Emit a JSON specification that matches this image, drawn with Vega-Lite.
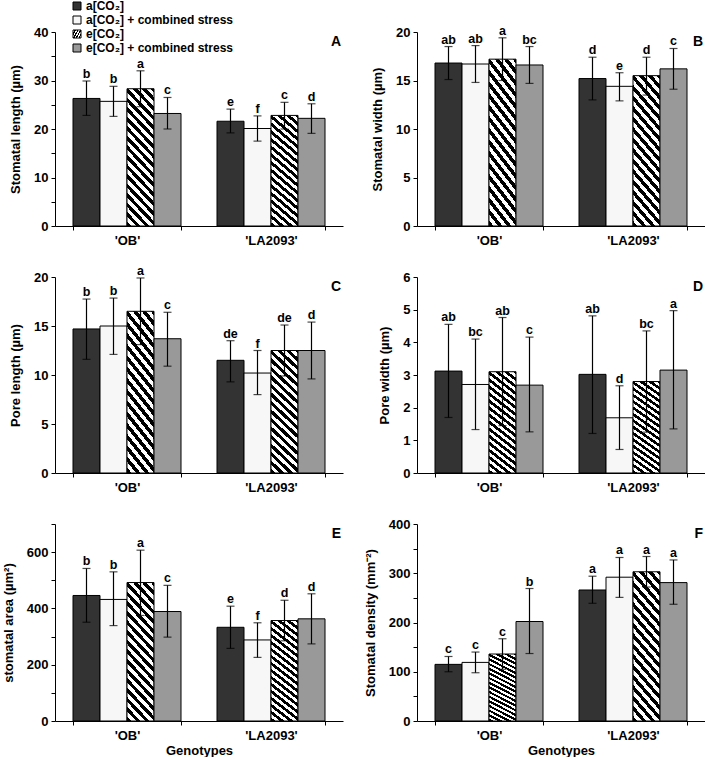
{
"$schema": "https://vega.github.io/schema/vega-lite/v6.json",
"padding": {"left": 2, "top": 0, "right": 0, "bottom": 0},
"background": "white",
"datasets": {"d": [
{"p":"A","g":"OB","t":"a[CO₂]","v":26.3,"lo":22.8,"hi":29.9,"L":"b"},
{"p":"A","g":"OB","t":"a[CO₂] + combined stress","v":25.7,"lo":22.6,"hi":28.8,"L":"b"},
{"p":"A","g":"OB","t":"e[CO₂]","v":28.3,"lo":24.6,"hi":32.0,"L":"a"},
{"p":"A","g":"OB","t":"e[CO₂] + combined stress","v":23.2,"lo":20.0,"hi":26.5,"L":"c"},
{"p":"A","g":"LA2093","t":"a[CO₂]","v":21.6,"lo":19.2,"hi":24.1,"L":"e"},
{"p":"A","g":"LA2093","t":"a[CO₂] + combined stress","v":20.1,"lo":17.5,"hi":22.7,"L":"f"},
{"p":"A","g":"LA2093","t":"e[CO₂]","v":22.8,"lo":20.0,"hi":25.5,"L":"c"},
{"p":"A","g":"LA2093","t":"e[CO₂] + combined stress","v":22.2,"lo":19.1,"hi":25.2,"L":"d"},
{"p":"B","g":"OB","t":"a[CO₂]","v":16.8,"lo":15.1,"hi":18.5,"L":"ab"},
{"p":"B","g":"OB","t":"a[CO₂] + combined stress","v":16.7,"lo":14.8,"hi":18.6,"L":"ab"},
{"p":"B","g":"OB","t":"e[CO₂]","v":17.2,"lo":15.0,"hi":19.4,"L":"a"},
{"p":"B","g":"OB","t":"e[CO₂] + combined stress","v":16.6,"lo":14.7,"hi":18.5,"L":"bc"},
{"p":"B","g":"LA2093","t":"a[CO₂]","v":15.2,"lo":13.0,"hi":17.4,"L":"d"},
{"p":"B","g":"LA2093","t":"a[CO₂] + combined stress","v":14.4,"lo":12.9,"hi":15.8,"L":"e"},
{"p":"B","g":"LA2093","t":"e[CO₂]","v":15.5,"lo":13.5,"hi":17.4,"L":"d"},
{"p":"B","g":"LA2093","t":"e[CO₂] + combined stress","v":16.2,"lo":14.1,"hi":18.3,"L":"c"},
{"p":"C","g":"OB","t":"a[CO₂]","v":14.7,"lo":11.6,"hi":17.75,"L":"b"},
{"p":"C","g":"OB","t":"a[CO₂] + combined stress","v":15.0,"lo":12.1,"hi":17.85,"L":"b"},
{"p":"C","g":"OB","t":"e[CO₂]","v":16.5,"lo":13.1,"hi":19.9,"L":"a"},
{"p":"C","g":"OB","t":"e[CO₂] + combined stress","v":13.7,"lo":10.9,"hi":16.4,"L":"c"},
{"p":"C","g":"LA2093","t":"a[CO₂]","v":11.5,"lo":9.3,"hi":13.5,"L":"de"},
{"p":"C","g":"LA2093","t":"a[CO₂] + combined stress","v":10.2,"lo":8.0,"hi":12.5,"L":"f"},
{"p":"C","g":"LA2093","t":"e[CO₂]","v":12.5,"lo":9.9,"hi":15.1,"L":"de"},
{"p":"C","g":"LA2093","t":"e[CO₂] + combined stress","v":12.5,"lo":9.6,"hi":15.4,"L":"d"},
{"p":"D","g":"OB","t":"a[CO₂]","v":3.12,"lo":1.7,"hi":4.55,"L":"ab"},
{"p":"D","g":"OB","t":"a[CO₂] + combined stress","v":2.71,"lo":1.33,"hi":4.1,"L":"bc"},
{"p":"D","g":"OB","t":"e[CO₂]","v":3.1,"lo":1.45,"hi":4.76,"L":"ab"},
{"p":"D","g":"OB","t":"e[CO₂] + combined stress","v":2.69,"lo":1.26,"hi":4.16,"L":"c"},
{"p":"D","g":"LA2093","t":"a[CO₂]","v":3.02,"lo":1.21,"hi":4.81,"L":"ab"},
{"p":"D","g":"LA2093","t":"a[CO₂] + combined stress","v":1.69,"lo":0.72,"hi":2.67,"L":"d"},
{"p":"D","g":"LA2093","t":"e[CO₂]","v":2.8,"lo":1.25,"hi":4.35,"L":"bc"},
{"p":"D","g":"LA2093","t":"e[CO₂] + combined stress","v":3.15,"lo":1.35,"hi":4.97,"L":"a"},
{"p":"E","g":"OB","t":"a[CO₂]","v":446,"lo":351,"hi":542,"L":"b"},
{"p":"E","g":"OB","t":"a[CO₂] + combined stress","v":432,"lo":339,"hi":530,"L":"b"},
{"p":"E","g":"OB","t":"e[CO₂]","v":492,"lo":375,"hi":607,"L":"a"},
{"p":"E","g":"OB","t":"e[CO₂] + combined stress","v":389,"lo":298,"hi":482,"L":"c"},
{"p":"E","g":"LA2093","t":"a[CO₂]","v":333,"lo":258,"hi":408,"L":"e"},
{"p":"E","g":"LA2093","t":"a[CO₂] + combined stress","v":288,"lo":226,"hi":349,"L":"f"},
{"p":"E","g":"LA2093","t":"e[CO₂]","v":357,"lo":285,"hi":429,"L":"d"},
{"p":"E","g":"LA2093","t":"e[CO₂] + combined stress","v":363,"lo":274,"hi":452,"L":"d"},
{"p":"F","g":"OB","t":"a[CO₂]","v":115,"lo":100,"hi":131,"L":"c"},
{"p":"F","g":"OB","t":"a[CO₂] + combined stress","v":119,"lo":98,"hi":140,"L":"c"},
{"p":"F","g":"OB","t":"e[CO₂]","v":136,"lo":105,"hi":167,"L":"c"},
{"p":"F","g":"OB","t":"e[CO₂] + combined stress","v":202,"lo":137,"hi":269,"L":"b"},
{"p":"F","g":"LA2093","t":"a[CO₂]","v":266,"lo":239,"hi":294,"L":"a"},
{"p":"F","g":"LA2093","t":"a[CO₂] + combined stress","v":292,"lo":251,"hi":332,"L":"a"},
{"p":"F","g":"LA2093","t":"e[CO₂]","v":303,"lo":272,"hi":334,"L":"a"},
{"p":"F","g":"LA2093","t":"e[CO₂] + combined stress","v":281,"lo":237,"hi":327,"L":"a"}
]},
"data": {"name": "d"},
"columns": 2,
"bounds": "flush",
"spacing": {"row": 51, "column": 74},
"resolve": {"scale": {"fill": "independent", "y": "independent", "x": "independent"}, "legend": {"fill": "independent"}},
"concat": [
{
 "width": 288, "height": 194,
 "transform": [{"filter": "datum.p == 'A'"}],
 "layer": [
  {"mark": {"type": "bar", "stroke": "black", "strokeWidth": 1},
   "encoding": {
    "x": {"field": "g", "type": "nominal", "sort": ["OB", "LA2093"], "title": null, "scale": {"paddingInner": 0.25, "paddingOuter": 0.125}, "axis": {"labelExpr": "datum.label ? \"'\" + datum.label + \"'\" : ''"}},
    "xOffset": {"field": "t", "type": "nominal", "sort": ["a[CO₂]", "a[CO₂] + combined stress", "e[CO₂]", "e[CO₂] + combined stress"], "scale": {"paddingInner": 0, "paddingOuter": 0}},
    "y": {"field": "v", "type": "quantitative", "title": "Stomatal length (µm)", "scale": {"domain": [0, 40], "nice": false}, "axis": {"values": [0,5,10,15,20,25,30,35,40], "tickCount": 50, "format": "d", "labelExpr": "datum.value % 10 == 0 ? datum.label : ''"}},
    "fill": {"field": "t", "type": "nominal",
      "scale": {"domain": ["a[CO₂]", "a[CO₂] + combined stress", "e[CO₂]", "e[CO₂] + combined stress"],
        "range": ["#333333", "#f7f7f7", {"expr": "{gradient:'linear',x1:0,y1:1,x2:0.25,y2:-0.2,stops:[{offset:0,color:'#000'},{offset:0.0278,color:'#000'},{offset:0.0278,color:'#fff'},{offset:0.0556,color:'#fff'},{offset:0.0556,color:'#000'},{offset:0.0833,color:'#000'},{offset:0.0833,color:'#fff'},{offset:0.1111,color:'#fff'},{offset:0.1111,color:'#000'},{offset:0.1389,color:'#000'},{offset:0.1389,color:'#fff'},{offset:0.1667,color:'#fff'},{offset:0.1667,color:'#000'},{offset:0.1944,color:'#000'},{offset:0.1944,color:'#fff'},{offset:0.2222,color:'#fff'},{offset:0.2222,color:'#000'},{offset:0.25,color:'#000'},{offset:0.25,color:'#fff'},{offset:0.2778,color:'#fff'},{offset:0.2778,color:'#000'},{offset:0.3056,color:'#000'},{offset:0.3056,color:'#fff'},{offset:0.3333,color:'#fff'},{offset:0.3333,color:'#000'},{offset:0.3611,color:'#000'},{offset:0.3611,color:'#fff'},{offset:0.3889,color:'#fff'},{offset:0.3889,color:'#000'},{offset:0.4167,color:'#000'},{offset:0.4167,color:'#fff'},{offset:0.4444,color:'#fff'},{offset:0.4444,color:'#000'},{offset:0.4722,color:'#000'},{offset:0.4722,color:'#fff'},{offset:0.5,color:'#fff'},{offset:0.5,color:'#000'},{offset:0.5278,color:'#000'},{offset:0.5278,color:'#fff'},{offset:0.5556,color:'#fff'},{offset:0.5556,color:'#000'},{offset:0.5833,color:'#000'},{offset:0.5833,color:'#fff'},{offset:0.6111,color:'#fff'},{offset:0.6111,color:'#000'},{offset:0.6389,color:'#000'},{offset:0.6389,color:'#fff'},{offset:0.6667,color:'#fff'},{offset:0.6667,color:'#000'},{offset:0.6944,color:'#000'},{offset:0.6944,color:'#fff'},{offset:0.7222,color:'#fff'},{offset:0.7222,color:'#000'},{offset:0.75,color:'#000'},{offset:0.75,color:'#fff'},{offset:0.7778,color:'#fff'},{offset:0.7778,color:'#000'},{offset:0.8056,color:'#000'},{offset:0.8056,color:'#fff'},{offset:0.8333,color:'#fff'},{offset:0.8333,color:'#000'},{offset:0.8611,color:'#000'},{offset:0.8611,color:'#fff'},{offset:0.8889,color:'#fff'},{offset:0.8889,color:'#000'},{offset:0.9167,color:'#000'},{offset:0.9167,color:'#fff'},{offset:0.9444,color:'#fff'},{offset:0.9444,color:'#000'},{offset:0.9722,color:'#000'},{offset:0.9722,color:'#fff'},{offset:1,color:'#fff'}]}"}, "#999999"]},
      "legend": {"orient": "none", "legendX": 16, "legendY": -32, "title": null, "symbolType": "square", "symbolSize": 64, "symbolStrokeColor": "black", "symbolStrokeWidth": 1, "labelFontSize": 12, "labelFontWeight": "bold", "labelFont": "Liberation Sans", "labelColor": "black", "rowPadding": 2, "labelOffset": 3}}
   }},
  {"mark": {"type": "rule", "color": "black", "strokeWidth": 1.2},
   "encoding": {
    "x": {"field": "g", "type": "nominal", "sort": ["OB", "LA2093"], "title": null},
    "xOffset": {"field": "t", "type": "nominal", "sort": ["a[CO₂]", "a[CO₂] + combined stress", "e[CO₂]", "e[CO₂] + combined stress"]},
    "y": {"field": "lo", "type": "quantitative", "title": "Stomatal length (µm)"}, "y2": {"field": "hi"}}},
  {"mark": {"type": "tick", "color": "black", "size": 8, "thickness": 1.2},
   "encoding": {
    "x": {"field": "g", "type": "nominal", "sort": ["OB", "LA2093"], "title": null},
    "xOffset": {"field": "t", "type": "nominal", "sort": ["a[CO₂]", "a[CO₂] + combined stress", "e[CO₂]", "e[CO₂] + combined stress"]},
    "y": {"field": "lo", "type": "quantitative", "title": "Stomatal length (µm)"}}},
  {"mark": {"type": "tick", "color": "black", "size": 8, "thickness": 1.2},
   "encoding": {
    "x": {"field": "g", "type": "nominal", "sort": ["OB", "LA2093"], "title": null},
    "xOffset": {"field": "t", "type": "nominal", "sort": ["a[CO₂]", "a[CO₂] + combined stress", "e[CO₂]", "e[CO₂] + combined stress"]},
    "y": {"field": "hi", "type": "quantitative", "title": "Stomatal length (µm)"}}},
  {"mark": {"type": "text", "fontSize": 12.5, "fontWeight": "bold", "dy": -3, "baseline": "alphabetic"},
   "encoding": {
    "x": {"field": "g", "type": "nominal", "sort": ["OB", "LA2093"], "title": null},
    "xOffset": {"field": "t", "type": "nominal", "sort": ["a[CO₂]", "a[CO₂] + combined stress", "e[CO₂]", "e[CO₂] + combined stress"]},
    "y": {"field": "hi", "type": "quantitative", "title": "Stomatal length (µm)"}, "text": {"field": "L"}}},
  {"transform": [{"filter": "datum.g == 'OB' && datum.t == 'a[CO₂]'"}],
   "mark": {"type": "text", "fontSize": 14, "fontWeight": "bold", "align": "right", "baseline": "top", "dx": -2, "dy": 3},
   "encoding": {"x": {"value": "width"}, "y": {"datum": 40}, "text": {"field": "p"}}}
 ]
},
{
 "width": 288, "height": 194,
 "transform": [{"filter": "datum.p == 'B'"}],
 "layer": [
  {"mark": {"type": "bar", "stroke": "black", "strokeWidth": 1},
   "encoding": {
    "x": {"field": "g", "type": "nominal", "sort": ["OB", "LA2093"], "title": null, "scale": {"paddingInner": 0.25, "paddingOuter": 0.125}, "axis": {"labelExpr": "datum.label ? \"'\" + datum.label + \"'\" : ''"}},
    "xOffset": {"field": "t", "type": "nominal", "sort": ["a[CO₂]", "a[CO₂] + combined stress", "e[CO₂]", "e[CO₂] + combined stress"], "scale": {"paddingInner": 0, "paddingOuter": 0}},
    "y": {"field": "v", "type": "quantitative", "title": "Stomatal width (µm)", "scale": {"domain": [0, 20], "nice": false}, "axis": {"values": [0,5,10,15,20], "tickCount": 50, "format": "d"}},
    "fill": {"field": "t", "type": "nominal",
      "scale": {"domain": ["a[CO₂]", "a[CO₂] + combined stress", "e[CO₂]", "e[CO₂] + combined stress"],
        "range": ["#333333", "#f7f7f7", {"expr": "{gradient:'linear',x1:0,y1:1,x2:0.25,y2:-0.2,stops:[{offset:0,color:'#000'},{offset:0.0278,color:'#000'},{offset:0.0278,color:'#fff'},{offset:0.0556,color:'#fff'},{offset:0.0556,color:'#000'},{offset:0.0833,color:'#000'},{offset:0.0833,color:'#fff'},{offset:0.1111,color:'#fff'},{offset:0.1111,color:'#000'},{offset:0.1389,color:'#000'},{offset:0.1389,color:'#fff'},{offset:0.1667,color:'#fff'},{offset:0.1667,color:'#000'},{offset:0.1944,color:'#000'},{offset:0.1944,color:'#fff'},{offset:0.2222,color:'#fff'},{offset:0.2222,color:'#000'},{offset:0.25,color:'#000'},{offset:0.25,color:'#fff'},{offset:0.2778,color:'#fff'},{offset:0.2778,color:'#000'},{offset:0.3056,color:'#000'},{offset:0.3056,color:'#fff'},{offset:0.3333,color:'#fff'},{offset:0.3333,color:'#000'},{offset:0.3611,color:'#000'},{offset:0.3611,color:'#fff'},{offset:0.3889,color:'#fff'},{offset:0.3889,color:'#000'},{offset:0.4167,color:'#000'},{offset:0.4167,color:'#fff'},{offset:0.4444,color:'#fff'},{offset:0.4444,color:'#000'},{offset:0.4722,color:'#000'},{offset:0.4722,color:'#fff'},{offset:0.5,color:'#fff'},{offset:0.5,color:'#000'},{offset:0.5278,color:'#000'},{offset:0.5278,color:'#fff'},{offset:0.5556,color:'#fff'},{offset:0.5556,color:'#000'},{offset:0.5833,color:'#000'},{offset:0.5833,color:'#fff'},{offset:0.6111,color:'#fff'},{offset:0.6111,color:'#000'},{offset:0.6389,color:'#000'},{offset:0.6389,color:'#fff'},{offset:0.6667,color:'#fff'},{offset:0.6667,color:'#000'},{offset:0.6944,color:'#000'},{offset:0.6944,color:'#fff'},{offset:0.7222,color:'#fff'},{offset:0.7222,color:'#000'},{offset:0.75,color:'#000'},{offset:0.75,color:'#fff'},{offset:0.7778,color:'#fff'},{offset:0.7778,color:'#000'},{offset:0.8056,color:'#000'},{offset:0.8056,color:'#fff'},{offset:0.8333,color:'#fff'},{offset:0.8333,color:'#000'},{offset:0.8611,color:'#000'},{offset:0.8611,color:'#fff'},{offset:0.8889,color:'#fff'},{offset:0.8889,color:'#000'},{offset:0.9167,color:'#000'},{offset:0.9167,color:'#fff'},{offset:0.9444,color:'#fff'},{offset:0.9444,color:'#000'},{offset:0.9722,color:'#000'},{offset:0.9722,color:'#fff'},{offset:1,color:'#fff'}]}"}, "#999999"]},
      "legend": null}
   }},
  {"mark": {"type": "rule", "color": "black", "strokeWidth": 1.2},
   "encoding": {
    "x": {"field": "g", "type": "nominal", "sort": ["OB", "LA2093"], "title": null},
    "xOffset": {"field": "t", "type": "nominal", "sort": ["a[CO₂]", "a[CO₂] + combined stress", "e[CO₂]", "e[CO₂] + combined stress"]},
    "y": {"field": "lo", "type": "quantitative", "title": "Stomatal width (µm)"}, "y2": {"field": "hi"}}},
  {"mark": {"type": "tick", "color": "black", "size": 8, "thickness": 1.2},
   "encoding": {
    "x": {"field": "g", "type": "nominal", "sort": ["OB", "LA2093"], "title": null},
    "xOffset": {"field": "t", "type": "nominal", "sort": ["a[CO₂]", "a[CO₂] + combined stress", "e[CO₂]", "e[CO₂] + combined stress"]},
    "y": {"field": "lo", "type": "quantitative", "title": "Stomatal width (µm)"}}},
  {"mark": {"type": "tick", "color": "black", "size": 8, "thickness": 1.2},
   "encoding": {
    "x": {"field": "g", "type": "nominal", "sort": ["OB", "LA2093"], "title": null},
    "xOffset": {"field": "t", "type": "nominal", "sort": ["a[CO₂]", "a[CO₂] + combined stress", "e[CO₂]", "e[CO₂] + combined stress"]},
    "y": {"field": "hi", "type": "quantitative", "title": "Stomatal width (µm)"}}},
  {"mark": {"type": "text", "fontSize": 12.5, "fontWeight": "bold", "dy": -3, "baseline": "alphabetic"},
   "encoding": {
    "x": {"field": "g", "type": "nominal", "sort": ["OB", "LA2093"], "title": null},
    "xOffset": {"field": "t", "type": "nominal", "sort": ["a[CO₂]", "a[CO₂] + combined stress", "e[CO₂]", "e[CO₂] + combined stress"]},
    "y": {"field": "hi", "type": "quantitative", "title": "Stomatal width (µm)"}, "text": {"field": "L"}}},
  {"transform": [{"filter": "datum.g == 'OB' && datum.t == 'a[CO₂]'"}],
   "mark": {"type": "text", "fontSize": 14, "fontWeight": "bold", "align": "right", "baseline": "top", "dx": -2, "dy": 3},
   "encoding": {"x": {"value": "width"}, "y": {"datum": 20}, "text": {"field": "p"}}}
 ]
},
{
 "width": 288, "height": 196,
 "transform": [{"filter": "datum.p == 'C'"}],
 "layer": [
  {"mark": {"type": "bar", "stroke": "black", "strokeWidth": 1},
   "encoding": {
    "x": {"field": "g", "type": "nominal", "sort": ["OB", "LA2093"], "title": null, "scale": {"paddingInner": 0.25, "paddingOuter": 0.125}, "axis": {"labelExpr": "datum.label ? \"'\" + datum.label + \"'\" : ''"}},
    "xOffset": {"field": "t", "type": "nominal", "sort": ["a[CO₂]", "a[CO₂] + combined stress", "e[CO₂]", "e[CO₂] + combined stress"], "scale": {"paddingInner": 0, "paddingOuter": 0}},
    "y": {"field": "v", "type": "quantitative", "title": "Pore length (µm)", "scale": {"domain": [0, 20], "nice": false}, "axis": {"values": [0,5,10,15,20], "tickCount": 50, "format": "d"}},
    "fill": {"field": "t", "type": "nominal",
      "scale": {"domain": ["a[CO₂]", "a[CO₂] + combined stress", "e[CO₂]", "e[CO₂] + combined stress"],
        "range": ["#333333", "#f7f7f7", {"expr": "{gradient:'linear',x1:0,y1:1,x2:0.25,y2:-0.2,stops:[{offset:0,color:'#000'},{offset:0.0278,color:'#000'},{offset:0.0278,color:'#fff'},{offset:0.0556,color:'#fff'},{offset:0.0556,color:'#000'},{offset:0.0833,color:'#000'},{offset:0.0833,color:'#fff'},{offset:0.1111,color:'#fff'},{offset:0.1111,color:'#000'},{offset:0.1389,color:'#000'},{offset:0.1389,color:'#fff'},{offset:0.1667,color:'#fff'},{offset:0.1667,color:'#000'},{offset:0.1944,color:'#000'},{offset:0.1944,color:'#fff'},{offset:0.2222,color:'#fff'},{offset:0.2222,color:'#000'},{offset:0.25,color:'#000'},{offset:0.25,color:'#fff'},{offset:0.2778,color:'#fff'},{offset:0.2778,color:'#000'},{offset:0.3056,color:'#000'},{offset:0.3056,color:'#fff'},{offset:0.3333,color:'#fff'},{offset:0.3333,color:'#000'},{offset:0.3611,color:'#000'},{offset:0.3611,color:'#fff'},{offset:0.3889,color:'#fff'},{offset:0.3889,color:'#000'},{offset:0.4167,color:'#000'},{offset:0.4167,color:'#fff'},{offset:0.4444,color:'#fff'},{offset:0.4444,color:'#000'},{offset:0.4722,color:'#000'},{offset:0.4722,color:'#fff'},{offset:0.5,color:'#fff'},{offset:0.5,color:'#000'},{offset:0.5278,color:'#000'},{offset:0.5278,color:'#fff'},{offset:0.5556,color:'#fff'},{offset:0.5556,color:'#000'},{offset:0.5833,color:'#000'},{offset:0.5833,color:'#fff'},{offset:0.6111,color:'#fff'},{offset:0.6111,color:'#000'},{offset:0.6389,color:'#000'},{offset:0.6389,color:'#fff'},{offset:0.6667,color:'#fff'},{offset:0.6667,color:'#000'},{offset:0.6944,color:'#000'},{offset:0.6944,color:'#fff'},{offset:0.7222,color:'#fff'},{offset:0.7222,color:'#000'},{offset:0.75,color:'#000'},{offset:0.75,color:'#fff'},{offset:0.7778,color:'#fff'},{offset:0.7778,color:'#000'},{offset:0.8056,color:'#000'},{offset:0.8056,color:'#fff'},{offset:0.8333,color:'#fff'},{offset:0.8333,color:'#000'},{offset:0.8611,color:'#000'},{offset:0.8611,color:'#fff'},{offset:0.8889,color:'#fff'},{offset:0.8889,color:'#000'},{offset:0.9167,color:'#000'},{offset:0.9167,color:'#fff'},{offset:0.9444,color:'#fff'},{offset:0.9444,color:'#000'},{offset:0.9722,color:'#000'},{offset:0.9722,color:'#fff'},{offset:1,color:'#fff'}]}"}, "#999999"]},
      "legend": null}
   }},
  {"mark": {"type": "rule", "color": "black", "strokeWidth": 1.2},
   "encoding": {
    "x": {"field": "g", "type": "nominal", "sort": ["OB", "LA2093"], "title": null},
    "xOffset": {"field": "t", "type": "nominal", "sort": ["a[CO₂]", "a[CO₂] + combined stress", "e[CO₂]", "e[CO₂] + combined stress"]},
    "y": {"field": "lo", "type": "quantitative", "title": "Pore length (µm)"}, "y2": {"field": "hi"}}},
  {"mark": {"type": "tick", "color": "black", "size": 8, "thickness": 1.2},
   "encoding": {
    "x": {"field": "g", "type": "nominal", "sort": ["OB", "LA2093"], "title": null},
    "xOffset": {"field": "t", "type": "nominal", "sort": ["a[CO₂]", "a[CO₂] + combined stress", "e[CO₂]", "e[CO₂] + combined stress"]},
    "y": {"field": "lo", "type": "quantitative", "title": "Pore length (µm)"}}},
  {"mark": {"type": "tick", "color": "black", "size": 8, "thickness": 1.2},
   "encoding": {
    "x": {"field": "g", "type": "nominal", "sort": ["OB", "LA2093"], "title": null},
    "xOffset": {"field": "t", "type": "nominal", "sort": ["a[CO₂]", "a[CO₂] + combined stress", "e[CO₂]", "e[CO₂] + combined stress"]},
    "y": {"field": "hi", "type": "quantitative", "title": "Pore length (µm)"}}},
  {"mark": {"type": "text", "fontSize": 12.5, "fontWeight": "bold", "dy": -3, "baseline": "alphabetic"},
   "encoding": {
    "x": {"field": "g", "type": "nominal", "sort": ["OB", "LA2093"], "title": null},
    "xOffset": {"field": "t", "type": "nominal", "sort": ["a[CO₂]", "a[CO₂] + combined stress", "e[CO₂]", "e[CO₂] + combined stress"]},
    "y": {"field": "hi", "type": "quantitative", "title": "Pore length (µm)"}, "text": {"field": "L"}}},
  {"transform": [{"filter": "datum.g == 'OB' && datum.t == 'a[CO₂]'"}],
   "mark": {"type": "text", "fontSize": 14, "fontWeight": "bold", "align": "right", "baseline": "top", "dx": -2, "dy": 3},
   "encoding": {"x": {"value": "width"}, "y": {"datum": 20}, "text": {"field": "p"}}}
 ]
},
{
 "width": 288, "height": 196,
 "transform": [{"filter": "datum.p == 'D'"}],
 "layer": [
  {"mark": {"type": "bar", "stroke": "black", "strokeWidth": 1},
   "encoding": {
    "x": {"field": "g", "type": "nominal", "sort": ["OB", "LA2093"], "title": null, "scale": {"paddingInner": 0.25, "paddingOuter": 0.125}, "axis": {"labelExpr": "datum.label ? \"'\" + datum.label + \"'\" : ''"}},
    "xOffset": {"field": "t", "type": "nominal", "sort": ["a[CO₂]", "a[CO₂] + combined stress", "e[CO₂]", "e[CO₂] + combined stress"], "scale": {"paddingInner": 0, "paddingOuter": 0}},
    "y": {"field": "v", "type": "quantitative", "title": "Pore width (µm)", "scale": {"domain": [0, 6], "nice": false}, "axis": {"values": [0,1,2,3,4,5,6], "tickCount": 50, "format": "d"}},
    "fill": {"field": "t", "type": "nominal",
      "scale": {"domain": ["a[CO₂]", "a[CO₂] + combined stress", "e[CO₂]", "e[CO₂] + combined stress"],
        "range": ["#333333", "#f7f7f7", {"expr": "{gradient:'linear',x1:0,y1:1,x2:0.25,y2:-0.2,stops:[{offset:0,color:'#000'},{offset:0.0278,color:'#000'},{offset:0.0278,color:'#fff'},{offset:0.0556,color:'#fff'},{offset:0.0556,color:'#000'},{offset:0.0833,color:'#000'},{offset:0.0833,color:'#fff'},{offset:0.1111,color:'#fff'},{offset:0.1111,color:'#000'},{offset:0.1389,color:'#000'},{offset:0.1389,color:'#fff'},{offset:0.1667,color:'#fff'},{offset:0.1667,color:'#000'},{offset:0.1944,color:'#000'},{offset:0.1944,color:'#fff'},{offset:0.2222,color:'#fff'},{offset:0.2222,color:'#000'},{offset:0.25,color:'#000'},{offset:0.25,color:'#fff'},{offset:0.2778,color:'#fff'},{offset:0.2778,color:'#000'},{offset:0.3056,color:'#000'},{offset:0.3056,color:'#fff'},{offset:0.3333,color:'#fff'},{offset:0.3333,color:'#000'},{offset:0.3611,color:'#000'},{offset:0.3611,color:'#fff'},{offset:0.3889,color:'#fff'},{offset:0.3889,color:'#000'},{offset:0.4167,color:'#000'},{offset:0.4167,color:'#fff'},{offset:0.4444,color:'#fff'},{offset:0.4444,color:'#000'},{offset:0.4722,color:'#000'},{offset:0.4722,color:'#fff'},{offset:0.5,color:'#fff'},{offset:0.5,color:'#000'},{offset:0.5278,color:'#000'},{offset:0.5278,color:'#fff'},{offset:0.5556,color:'#fff'},{offset:0.5556,color:'#000'},{offset:0.5833,color:'#000'},{offset:0.5833,color:'#fff'},{offset:0.6111,color:'#fff'},{offset:0.6111,color:'#000'},{offset:0.6389,color:'#000'},{offset:0.6389,color:'#fff'},{offset:0.6667,color:'#fff'},{offset:0.6667,color:'#000'},{offset:0.6944,color:'#000'},{offset:0.6944,color:'#fff'},{offset:0.7222,color:'#fff'},{offset:0.7222,color:'#000'},{offset:0.75,color:'#000'},{offset:0.75,color:'#fff'},{offset:0.7778,color:'#fff'},{offset:0.7778,color:'#000'},{offset:0.8056,color:'#000'},{offset:0.8056,color:'#fff'},{offset:0.8333,color:'#fff'},{offset:0.8333,color:'#000'},{offset:0.8611,color:'#000'},{offset:0.8611,color:'#fff'},{offset:0.8889,color:'#fff'},{offset:0.8889,color:'#000'},{offset:0.9167,color:'#000'},{offset:0.9167,color:'#fff'},{offset:0.9444,color:'#fff'},{offset:0.9444,color:'#000'},{offset:0.9722,color:'#000'},{offset:0.9722,color:'#fff'},{offset:1,color:'#fff'}]}"}, "#999999"]},
      "legend": null}
   }},
  {"mark": {"type": "rule", "color": "black", "strokeWidth": 1.2},
   "encoding": {
    "x": {"field": "g", "type": "nominal", "sort": ["OB", "LA2093"], "title": null},
    "xOffset": {"field": "t", "type": "nominal", "sort": ["a[CO₂]", "a[CO₂] + combined stress", "e[CO₂]", "e[CO₂] + combined stress"]},
    "y": {"field": "lo", "type": "quantitative", "title": "Pore width (µm)"}, "y2": {"field": "hi"}}},
  {"mark": {"type": "tick", "color": "black", "size": 8, "thickness": 1.2},
   "encoding": {
    "x": {"field": "g", "type": "nominal", "sort": ["OB", "LA2093"], "title": null},
    "xOffset": {"field": "t", "type": "nominal", "sort": ["a[CO₂]", "a[CO₂] + combined stress", "e[CO₂]", "e[CO₂] + combined stress"]},
    "y": {"field": "lo", "type": "quantitative", "title": "Pore width (µm)"}}},
  {"mark": {"type": "tick", "color": "black", "size": 8, "thickness": 1.2},
   "encoding": {
    "x": {"field": "g", "type": "nominal", "sort": ["OB", "LA2093"], "title": null},
    "xOffset": {"field": "t", "type": "nominal", "sort": ["a[CO₂]", "a[CO₂] + combined stress", "e[CO₂]", "e[CO₂] + combined stress"]},
    "y": {"field": "hi", "type": "quantitative", "title": "Pore width (µm)"}}},
  {"mark": {"type": "text", "fontSize": 12.5, "fontWeight": "bold", "dy": -3, "baseline": "alphabetic"},
   "encoding": {
    "x": {"field": "g", "type": "nominal", "sort": ["OB", "LA2093"], "title": null},
    "xOffset": {"field": "t", "type": "nominal", "sort": ["a[CO₂]", "a[CO₂] + combined stress", "e[CO₂]", "e[CO₂] + combined stress"]},
    "y": {"field": "hi", "type": "quantitative", "title": "Pore width (µm)"}, "text": {"field": "L"}}},
  {"transform": [{"filter": "datum.g == 'OB' && datum.t == 'a[CO₂]'"}],
   "mark": {"type": "text", "fontSize": 14, "fontWeight": "bold", "align": "right", "baseline": "top", "dx": -2, "dy": 3},
   "encoding": {"x": {"value": "width"}, "y": {"datum": 6}, "text": {"field": "p"}}}
 ]
},
{
 "width": 288, "height": 197,
 "transform": [{"filter": "datum.p == 'E'"}],
 "layer": [
  {"mark": {"type": "bar", "stroke": "black", "strokeWidth": 1},
   "encoding": {
    "x": {"field": "g", "type": "nominal", "sort": ["OB", "LA2093"], "title": "Genotypes", "scale": {"paddingInner": 0.25, "paddingOuter": 0.125}, "axis": {"labelExpr": "datum.label ? \"'\" + datum.label + \"'\" : ''"}},
    "xOffset": {"field": "t", "type": "nominal", "sort": ["a[CO₂]", "a[CO₂] + combined stress", "e[CO₂]", "e[CO₂] + combined stress"], "scale": {"paddingInner": 0, "paddingOuter": 0}},
    "y": {"field": "v", "type": "quantitative", "title": "stomatal area (µm²)", "scale": {"domain": [0, 700], "nice": false}, "axis": {"values": [0,100,200,300,400,500,600,700], "tickCount": 50, "format": "d", "labelExpr": "datum.value % 200 == 0 ? datum.label : ''"}},
    "fill": {"field": "t", "type": "nominal",
      "scale": {"domain": ["a[CO₂]", "a[CO₂] + combined stress", "e[CO₂]", "e[CO₂] + combined stress"],
        "range": ["#333333", "#f7f7f7", {"expr": "{gradient:'linear',x1:0,y1:1,x2:0.25,y2:-0.2,stops:[{offset:0,color:'#000'},{offset:0.0278,color:'#000'},{offset:0.0278,color:'#fff'},{offset:0.0556,color:'#fff'},{offset:0.0556,color:'#000'},{offset:0.0833,color:'#000'},{offset:0.0833,color:'#fff'},{offset:0.1111,color:'#fff'},{offset:0.1111,color:'#000'},{offset:0.1389,color:'#000'},{offset:0.1389,color:'#fff'},{offset:0.1667,color:'#fff'},{offset:0.1667,color:'#000'},{offset:0.1944,color:'#000'},{offset:0.1944,color:'#fff'},{offset:0.2222,color:'#fff'},{offset:0.2222,color:'#000'},{offset:0.25,color:'#000'},{offset:0.25,color:'#fff'},{offset:0.2778,color:'#fff'},{offset:0.2778,color:'#000'},{offset:0.3056,color:'#000'},{offset:0.3056,color:'#fff'},{offset:0.3333,color:'#fff'},{offset:0.3333,color:'#000'},{offset:0.3611,color:'#000'},{offset:0.3611,color:'#fff'},{offset:0.3889,color:'#fff'},{offset:0.3889,color:'#000'},{offset:0.4167,color:'#000'},{offset:0.4167,color:'#fff'},{offset:0.4444,color:'#fff'},{offset:0.4444,color:'#000'},{offset:0.4722,color:'#000'},{offset:0.4722,color:'#fff'},{offset:0.5,color:'#fff'},{offset:0.5,color:'#000'},{offset:0.5278,color:'#000'},{offset:0.5278,color:'#fff'},{offset:0.5556,color:'#fff'},{offset:0.5556,color:'#000'},{offset:0.5833,color:'#000'},{offset:0.5833,color:'#fff'},{offset:0.6111,color:'#fff'},{offset:0.6111,color:'#000'},{offset:0.6389,color:'#000'},{offset:0.6389,color:'#fff'},{offset:0.6667,color:'#fff'},{offset:0.6667,color:'#000'},{offset:0.6944,color:'#000'},{offset:0.6944,color:'#fff'},{offset:0.7222,color:'#fff'},{offset:0.7222,color:'#000'},{offset:0.75,color:'#000'},{offset:0.75,color:'#fff'},{offset:0.7778,color:'#fff'},{offset:0.7778,color:'#000'},{offset:0.8056,color:'#000'},{offset:0.8056,color:'#fff'},{offset:0.8333,color:'#fff'},{offset:0.8333,color:'#000'},{offset:0.8611,color:'#000'},{offset:0.8611,color:'#fff'},{offset:0.8889,color:'#fff'},{offset:0.8889,color:'#000'},{offset:0.9167,color:'#000'},{offset:0.9167,color:'#fff'},{offset:0.9444,color:'#fff'},{offset:0.9444,color:'#000'},{offset:0.9722,color:'#000'},{offset:0.9722,color:'#fff'},{offset:1,color:'#fff'}]}"}, "#999999"]},
      "legend": null}
   }},
  {"mark": {"type": "rule", "color": "black", "strokeWidth": 1.2},
   "encoding": {
    "x": {"field": "g", "type": "nominal", "sort": ["OB", "LA2093"], "title": "Genotypes"},
    "xOffset": {"field": "t", "type": "nominal", "sort": ["a[CO₂]", "a[CO₂] + combined stress", "e[CO₂]", "e[CO₂] + combined stress"]},
    "y": {"field": "lo", "type": "quantitative", "title": "stomatal area (µm²)"}, "y2": {"field": "hi"}}},
  {"mark": {"type": "tick", "color": "black", "size": 8, "thickness": 1.2},
   "encoding": {
    "x": {"field": "g", "type": "nominal", "sort": ["OB", "LA2093"], "title": "Genotypes"},
    "xOffset": {"field": "t", "type": "nominal", "sort": ["a[CO₂]", "a[CO₂] + combined stress", "e[CO₂]", "e[CO₂] + combined stress"]},
    "y": {"field": "lo", "type": "quantitative", "title": "stomatal area (µm²)"}}},
  {"mark": {"type": "tick", "color": "black", "size": 8, "thickness": 1.2},
   "encoding": {
    "x": {"field": "g", "type": "nominal", "sort": ["OB", "LA2093"], "title": "Genotypes"},
    "xOffset": {"field": "t", "type": "nominal", "sort": ["a[CO₂]", "a[CO₂] + combined stress", "e[CO₂]", "e[CO₂] + combined stress"]},
    "y": {"field": "hi", "type": "quantitative", "title": "stomatal area (µm²)"}}},
  {"mark": {"type": "text", "fontSize": 12.5, "fontWeight": "bold", "dy": -3, "baseline": "alphabetic"},
   "encoding": {
    "x": {"field": "g", "type": "nominal", "sort": ["OB", "LA2093"], "title": "Genotypes"},
    "xOffset": {"field": "t", "type": "nominal", "sort": ["a[CO₂]", "a[CO₂] + combined stress", "e[CO₂]", "e[CO₂] + combined stress"]},
    "y": {"field": "hi", "type": "quantitative", "title": "stomatal area (µm²)"}, "text": {"field": "L"}}},
  {"transform": [{"filter": "datum.g == 'OB' && datum.t == 'a[CO₂]'"}],
   "mark": {"type": "text", "fontSize": 14, "fontWeight": "bold", "align": "right", "baseline": "top", "dx": -2, "dy": 3},
   "encoding": {"x": {"value": "width"}, "y": {"datum": 700}, "text": {"field": "p"}}}
 ]
},
{
 "width": 288, "height": 197,
 "transform": [{"filter": "datum.p == 'F'"}],
 "layer": [
  {"mark": {"type": "bar", "stroke": "black", "strokeWidth": 1},
   "encoding": {
    "x": {"field": "g", "type": "nominal", "sort": ["OB", "LA2093"], "title": "Genotypes", "scale": {"paddingInner": 0.25, "paddingOuter": 0.125}, "axis": {"labelExpr": "datum.label ? \"'\" + datum.label + \"'\" : ''"}},
    "xOffset": {"field": "t", "type": "nominal", "sort": ["a[CO₂]", "a[CO₂] + combined stress", "e[CO₂]", "e[CO₂] + combined stress"], "scale": {"paddingInner": 0, "paddingOuter": 0}},
    "y": {"field": "v", "type": "quantitative", "title": "Stomatal density (mm⁻²)", "scale": {"domain": [0, 400], "nice": false}, "axis": {"values": [0,50,100,150,200,250,300,350,400], "tickCount": 50, "format": "d", "labelExpr": "datum.value % 100 == 0 ? datum.label : ''"}},
    "fill": {"field": "t", "type": "nominal",
      "scale": {"domain": ["a[CO₂]", "a[CO₂] + combined stress", "e[CO₂]", "e[CO₂] + combined stress"],
        "range": ["#333333", "#f7f7f7", {"expr": "{gradient:'linear',x1:0,y1:1,x2:0.25,y2:-0.2,stops:[{offset:0,color:'#000'},{offset:0.0278,color:'#000'},{offset:0.0278,color:'#fff'},{offset:0.0556,color:'#fff'},{offset:0.0556,color:'#000'},{offset:0.0833,color:'#000'},{offset:0.0833,color:'#fff'},{offset:0.1111,color:'#fff'},{offset:0.1111,color:'#000'},{offset:0.1389,color:'#000'},{offset:0.1389,color:'#fff'},{offset:0.1667,color:'#fff'},{offset:0.1667,color:'#000'},{offset:0.1944,color:'#000'},{offset:0.1944,color:'#fff'},{offset:0.2222,color:'#fff'},{offset:0.2222,color:'#000'},{offset:0.25,color:'#000'},{offset:0.25,color:'#fff'},{offset:0.2778,color:'#fff'},{offset:0.2778,color:'#000'},{offset:0.3056,color:'#000'},{offset:0.3056,color:'#fff'},{offset:0.3333,color:'#fff'},{offset:0.3333,color:'#000'},{offset:0.3611,color:'#000'},{offset:0.3611,color:'#fff'},{offset:0.3889,color:'#fff'},{offset:0.3889,color:'#000'},{offset:0.4167,color:'#000'},{offset:0.4167,color:'#fff'},{offset:0.4444,color:'#fff'},{offset:0.4444,color:'#000'},{offset:0.4722,color:'#000'},{offset:0.4722,color:'#fff'},{offset:0.5,color:'#fff'},{offset:0.5,color:'#000'},{offset:0.5278,color:'#000'},{offset:0.5278,color:'#fff'},{offset:0.5556,color:'#fff'},{offset:0.5556,color:'#000'},{offset:0.5833,color:'#000'},{offset:0.5833,color:'#fff'},{offset:0.6111,color:'#fff'},{offset:0.6111,color:'#000'},{offset:0.6389,color:'#000'},{offset:0.6389,color:'#fff'},{offset:0.6667,color:'#fff'},{offset:0.6667,color:'#000'},{offset:0.6944,color:'#000'},{offset:0.6944,color:'#fff'},{offset:0.7222,color:'#fff'},{offset:0.7222,color:'#000'},{offset:0.75,color:'#000'},{offset:0.75,color:'#fff'},{offset:0.7778,color:'#fff'},{offset:0.7778,color:'#000'},{offset:0.8056,color:'#000'},{offset:0.8056,color:'#fff'},{offset:0.8333,color:'#fff'},{offset:0.8333,color:'#000'},{offset:0.8611,color:'#000'},{offset:0.8611,color:'#fff'},{offset:0.8889,color:'#fff'},{offset:0.8889,color:'#000'},{offset:0.9167,color:'#000'},{offset:0.9167,color:'#fff'},{offset:0.9444,color:'#fff'},{offset:0.9444,color:'#000'},{offset:0.9722,color:'#000'},{offset:0.9722,color:'#fff'},{offset:1,color:'#fff'}]}"}, "#999999"]},
      "legend": null}
   }},
  {"mark": {"type": "rule", "color": "black", "strokeWidth": 1.2},
   "encoding": {
    "x": {"field": "g", "type": "nominal", "sort": ["OB", "LA2093"], "title": "Genotypes"},
    "xOffset": {"field": "t", "type": "nominal", "sort": ["a[CO₂]", "a[CO₂] + combined stress", "e[CO₂]", "e[CO₂] + combined stress"]},
    "y": {"field": "lo", "type": "quantitative", "title": "Stomatal density (mm⁻²)"}, "y2": {"field": "hi"}}},
  {"mark": {"type": "tick", "color": "black", "size": 8, "thickness": 1.2},
   "encoding": {
    "x": {"field": "g", "type": "nominal", "sort": ["OB", "LA2093"], "title": "Genotypes"},
    "xOffset": {"field": "t", "type": "nominal", "sort": ["a[CO₂]", "a[CO₂] + combined stress", "e[CO₂]", "e[CO₂] + combined stress"]},
    "y": {"field": "lo", "type": "quantitative", "title": "Stomatal density (mm⁻²)"}}},
  {"mark": {"type": "tick", "color": "black", "size": 8, "thickness": 1.2},
   "encoding": {
    "x": {"field": "g", "type": "nominal", "sort": ["OB", "LA2093"], "title": "Genotypes"},
    "xOffset": {"field": "t", "type": "nominal", "sort": ["a[CO₂]", "a[CO₂] + combined stress", "e[CO₂]", "e[CO₂] + combined stress"]},
    "y": {"field": "hi", "type": "quantitative", "title": "Stomatal density (mm⁻²)"}}},
  {"mark": {"type": "text", "fontSize": 12.5, "fontWeight": "bold", "dy": -3, "baseline": "alphabetic"},
   "encoding": {
    "x": {"field": "g", "type": "nominal", "sort": ["OB", "LA2093"], "title": "Genotypes"},
    "xOffset": {"field": "t", "type": "nominal", "sort": ["a[CO₂]", "a[CO₂] + combined stress", "e[CO₂]", "e[CO₂] + combined stress"]},
    "y": {"field": "hi", "type": "quantitative", "title": "Stomatal density (mm⁻²)"}, "text": {"field": "L"}}},
  {"transform": [{"filter": "datum.g == 'OB' && datum.t == 'a[CO₂]'"}],
   "mark": {"type": "text", "fontSize": 14, "fontWeight": "bold", "align": "right", "baseline": "top", "dx": -2, "dy": 3},
   "encoding": {"x": {"value": "width"}, "y": {"datum": 400}, "text": {"field": "p"}}}
 ]
}
],
"config": {
 "font": "Liberation Sans",
 "view": {"stroke": null},
 "text": {"font": "Liberation Sans", "color": "black"},
 "axis": {"labelFont": "Liberation Sans", "titleFont": "Liberation Sans", "labelFontWeight": "bold", "titleFontWeight": "bold", "labelFontSize": 13, "titleFontSize": 13, "labelColor": "black", "titleColor": "black", "domainColor": "black", "tickColor": "black", "grid": false, "tickSize": 4, "labelOverlap": false},
 "axisX": {"labelAngle": 0, "tickBand": "extent", "labelPadding": 4, "titlePadding": 2},
 "axisY": {"labelPadding": 3, "titlePadding": 11}
}
}
